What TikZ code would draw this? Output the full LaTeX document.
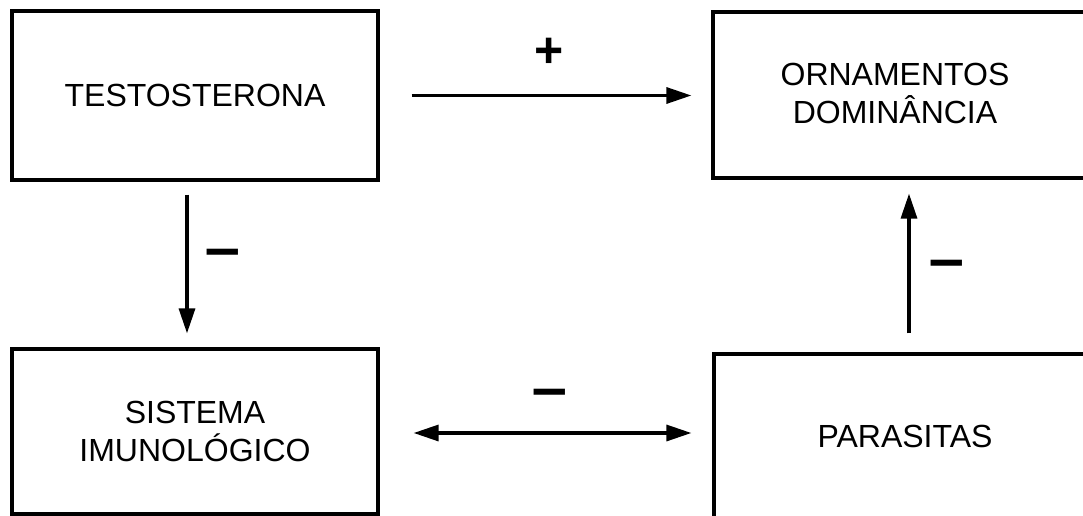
\documentclass[tikz,border=0pt]{standalone}
\usepackage{fontspec}
\setmainfont{Liberation Sans}
\usepackage{graphicx}
\usetikzlibrary{arrows.meta}
\begin{document}
\begin{tikzpicture}[x=1pt,y=-1pt,
  box/.style={draw, line width=3.2pt, inner sep=0pt, align=center, font=\fontsize{32}{38}\selectfont},
  lbl/.style={align=center, font=\fontsize{32}{38}\selectfont, inner sep=0pt},
  sign/.style={font=\fontsize{50}{50}\selectfont\bfseries, inner sep=0pt},
  arr/.style={line width=3.2pt, -{Triangle[length=25pt,width=16pt]}},
  darr/.style={line width=3.2pt, {Triangle[length=25pt,width=16pt]}-{Triangle[length=25pt,width=16pt]}}]
\useasboundingbox (0,0) rectangle (1083,516);
\clip (0,0) rectangle (1083,516);
% boxes
\node[box, minimum width=366pt, minimum height=169pt] (testo) at (195,95.5) {TESTOSTERONA};
\node[box, minimum width=387pt, minimum height=166pt] (orn) at (906.5,95) {};
\node[box, minimum width=366pt, minimum height=165pt] (sist) at (195,431.5) {SISTEMA\\IMUNOLÓGICO};
\node[box, minimum width=386pt, minimum height=186pt] (paras) at (907,447) {};
\node[lbl] (ornT) at (895,93) {ORNAMENTOS\\DOMINÂNCIA};
\node[lbl] (parasT) at (905,436) {PARASITAS};
% connectors
\draw[arr, shorten <=32pt, shorten >=20pt] (testo.east) -- (testo.east -| orn.west);
\draw[darr, shorten <=34pt, shorten >=21pt] ([yshift=-1.5pt]sist.east) -- ([yshift=-1.5pt]sist.east -| paras.west);
\draw[arr, shorten <=13pt, shorten >=14pt] ([xshift=-8pt]testo.south) -- ([xshift=-8pt]sist.north);
\draw[arr, shorten <=19pt, shorten >=14pt] ([xshift=2pt]paras.north) -- ([xshift=2pt]paras.north |- orn.south);
% signs
\node[sign] (plus) at (549,53) {+};
\node[sign] (m1) at (223,260) {\scalebox{1.25}[1.1]{−}};
\node[sign] (m2) at (947,271) {\scalebox{1.25}[1.1]{−}};
\node[sign] (m3) at (550,400) {\scalebox{1.25}[1.1]{−}};
\end{tikzpicture}
\end{document}
